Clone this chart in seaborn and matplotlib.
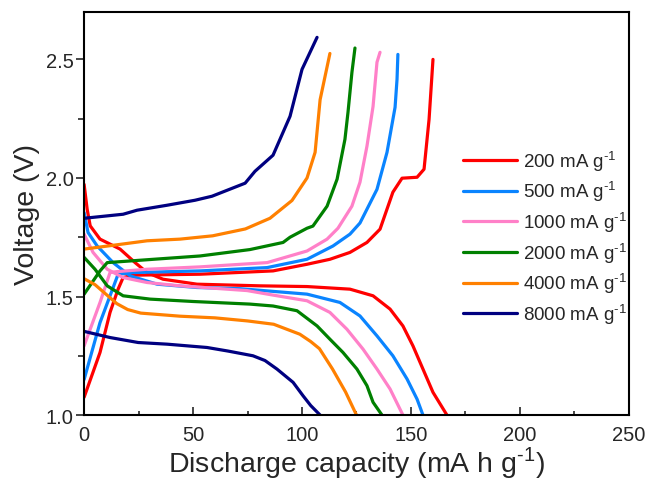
import numpy as np
import pandas as pd
import matplotlib.pyplot as plt
import seaborn as sns
from matplotlib.ticker import MultipleLocator

# -------------------------------
# Data
# -------------------------------
rates = ["200 mA g$^{\\text{-1}}$", "500 mA g$^{\\text{-1}}$", "1000 mA g$^{\\text{-1}}$",
         "2000 mA g$^{\\text{-1}}$", "4000 mA g$^{\\text{-1}}$", "8000 mA g$^{\\text{-1}}$"]
colors = ["#FF0000", "#0A84FF", "#FF80C8", "#008000", "#FF8000", "#000080"]

# charge branches (capacity, voltage)
chg_200_x = [0, 7.3, 11.9, 15.6, 17.9, 22.5, 53.2, 86.7, 102.3, 112.8, 122, 129.8, 135.8, 141.7, 145.9, 152.8, 156, 158.3, 160.1]
chg_200_y = [1.075, 1.264, 1.433, 1.531, 1.58, 1.59, 1.594, 1.608, 1.636, 1.657, 1.686, 1.728, 1.784, 1.94, 1.999, 2.003, 2.037, 2.247, 2.5]
chg_500_x = [0, 7.3, 11.9, 15.6, 22.5, 53.2, 84, 102.3, 114.2, 122, 126.6, 134.4, 139, 142.7, 143.6, 144]
chg_500_y = [1.15, 1.39, 1.503, 1.594, 1.601, 1.608, 1.622, 1.657, 1.713, 1.763, 1.81, 1.952, 2.108, 2.298, 2.416, 2.521]
chg_1000_x = [0, 7.3, 11.9, 15.1, 28.9, 53.2, 84, 102.3, 111.5, 116.5, 122.9, 126.6, 129.8, 132.6, 134.4, 135.8]
chg_1000_y = [1.292, 1.475, 1.601, 1.605, 1.615, 1.625, 1.643, 1.692, 1.742, 1.788, 1.881, 1.982, 2.134, 2.302, 2.488, 2.53]
chg_2000_x = [0, 7.3, 10.6, 30.3, 53.2, 76.1, 91.3, 94.5, 102.3, 105, 111.5, 116.1, 119.7, 121.1, 122.9, 124.3]
chg_2000_y = [1.51, 1.608, 1.643, 1.656, 1.671, 1.698, 1.728, 1.75, 1.788, 1.797, 1.881, 1.995, 2.163, 2.277, 2.445, 2.548]
chg_4000_x = [0, 13.3, 28.9, 44, 59, 74, 85.3, 95.4, 102.3, 106, 108.3, 112.8]
chg_4000_y = [1.70, 1.716, 1.735, 1.742, 1.756, 1.785, 1.83, 1.905, 2.0, 2.108, 2.33, 2.525]
chg_8000_x = [0, 17.9, 24.3, 38.1, 50.9, 58.7, 73.9, 78.4, 86.7, 94.5, 100, 106.9]
chg_8000_y = [1.83, 1.847, 1.864, 1.885, 1.906, 1.923, 1.978, 2.028, 2.096, 2.26, 2.458, 2.593]

# discharge branches
dis_200_x = [0, 1.4, 2.8, 7.3, 16.5, 23.4, 28.9, 36.2, 51.8, 80.7, 102.3, 122, 132.6, 140.4, 146.3, 150.9, 155.5, 160.1, 166.5]
dis_200_y = [1.973, 1.868, 1.798, 1.742, 1.70, 1.643, 1.601, 1.573, 1.552, 1.545, 1.542, 1.531, 1.503, 1.447, 1.376, 1.292, 1.194, 1.096, 1.0]
dis_500_x = [0, 1.8, 6, 13.3, 21.1, 33.5, 51.8, 71.6, 102.3, 117.4, 126.6, 134.4, 141.7, 148.2, 152.8, 155.5]
dis_500_y = [1.854, 1.77, 1.713, 1.643, 1.587, 1.552, 1.538, 1.533, 1.51, 1.475, 1.418, 1.334, 1.25, 1.152, 1.067, 1.0]
dis_1000_x = [0, 4.1, 10.6, 17.9, 28.9, 44, 74.8, 86.7, 102.3, 112.8, 120.6, 128, 134.4, 140.4, 146.3]
dis_1000_y = [1.763, 1.686, 1.615, 1.58, 1.559, 1.545, 1.525, 1.506, 1.482, 1.433, 1.362, 1.278, 1.194, 1.11, 1.0]
dis_2000_x = [0, 5, 10.6, 17.9, 30.3, 50, 76.1, 86.7, 97.7, 106.9, 112.8, 118.8, 125.2, 129.8, 132.6, 136.7]
dis_2000_y = [1.665, 1.615, 1.545, 1.503, 1.489, 1.479, 1.468, 1.46, 1.44, 1.376, 1.32, 1.264, 1.194, 1.124, 1.054, 1.0]
dis_4000_x = [0, 5, 10, 15, 20, 26, 44, 60, 75, 87, 93, 99, 104, 108, 114, 120, 125]
dis_4000_y = [1.575, 1.55, 1.51, 1.47, 1.445, 1.43, 1.417, 1.41, 1.397, 1.383, 1.362, 1.341, 1.31, 1.28, 1.194, 1.097, 1.0]
dis_8000_x = [0, 11.9, 24.8, 38.1, 56.4, 66, 77.5, 83, 88.5, 95.9, 100.5, 104, 108.3]
dis_8000_y = [1.353, 1.327, 1.306, 1.299, 1.285, 1.27, 1.25, 1.23, 1.194, 1.138, 1.081, 1.04, 1.0]

charge = [(chg_200_x, chg_200_y), (chg_500_x, chg_500_y), (chg_1000_x, chg_1000_y),
          (chg_2000_x, chg_2000_y), (chg_4000_x, chg_4000_y), (chg_8000_x, chg_8000_y)]
discharge = [(dis_200_x, dis_200_y), (dis_500_x, dis_500_y), (dis_1000_x, dis_1000_y),
             (dis_2000_x, dis_2000_y), (dis_4000_x, dis_4000_y), (dis_8000_x, dis_8000_y)]

# -------------------------------
# Plot
# -------------------------------
sns.set_style("white")
plt.rcParams['font.family'] = ['Liberation Sans', 'DejaVu Sans']
plt.rcParams['mathtext.fontset'] = 'custom'
plt.rcParams['mathtext.rm'] = 'Liberation Sans'

fig = plt.figure(figsize=(6.47, 4.81), dpi=100)
ax = fig.add_axes([0.130, 0.135, 0.842, 0.838])

for i, rate in enumerate(rates):
    cx, cy = charge[i]
    dx, dy = discharge[i]
    sns.lineplot(x=cx, y=cy, color=colors[i], lw=2.3, sort=False, label=rate, ax=ax)
    sns.lineplot(x=dx, y=dy, color=colors[i], lw=2.3, sort=False, ax=ax)

ax.set_xlim(0, 250)
ax.set_ylim(1.0, 2.7)
ax.xaxis.set_major_locator(MultipleLocator(50))
ax.xaxis.set_minor_locator(MultipleLocator(25))
ax.yaxis.set_major_locator(MultipleLocator(0.5))
ax.yaxis.set_minor_locator(MultipleLocator(0.25))
ax.yaxis.set_major_formatter(plt.FormatStrFormatter('%.1f'))

ax.tick_params(axis='x', which='both', direction='in', bottom=True, top=False, labelsize=14.5, width=1.2, pad=7)
ax.tick_params(axis='x', which='major', length=6)
ax.tick_params(axis='x', which='minor', length=3)
ax.tick_params(axis='y', which='both', direction='out', left=True, right=False, labelsize=14.5, width=1.2, pad=1.5)
ax.tick_params(axis='y', which='major', length=6)
ax.tick_params(axis='y', which='minor', length=4)

for s in ax.spines.values():
    s.set_linewidth(1.5)
    s.set_color('black')

ax.set_xlabel("Discharge capacity (mA h g$^{\\text{-1}}$)", fontsize=20.5, labelpad=0)
ax.set_ylabel("Voltage (V)", fontsize=20.5, labelpad=4)

ax.legend(loc='upper left', bbox_to_anchor=(0.695, 0.6625), frameon=False,
          fontsize=13.5, handlelength=2.9, handletextpad=0.3, labelspacing=0.31,
          borderpad=0, borderaxespad=0)

fig.savefig("out.png", dpi=100)
